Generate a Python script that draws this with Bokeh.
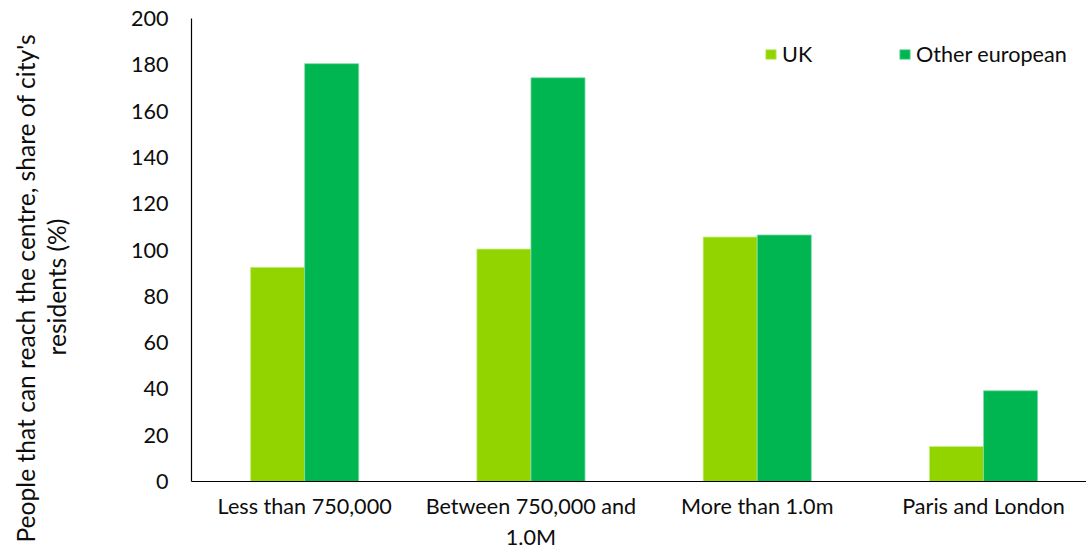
from bokeh.plotting import figure
from bokeh.layouts import row
from bokeh.models import Range1d, FixedTicker, Legend, LegendItem, Title
from bokeh.embed import file_html
from bokeh.resources import INLINE

categories = ["Less than 750,000", "Between 750,000 and\n1.0M", "More than 1.0m", "Paris and London"]
uk = [92.5, 100.4, 105.6, 15.1]
other_european = [180.5, 174.4, 106.5, 39.2]
y_ticks = [0, 20, 40, 60, 80, 100, 120, 140, 160, 180, 200]
y_title_lines = ["People that can reach the centre, share of city's", "residents (%)"]

FONT = "Lato"
FS = "21.6px"
TITLE_FS = "24.6px"
TXT = "#0d0d0d"
UK_COLOR = "#92D400"
OE_COLOR = "#00B650"

TITLE_W = 100
TOTAL_W, TOTAL_H = 1086, 552
TOP, BOTTOM = 18, 70

n = len(categories)
centers = [i + 0.5 for i in range(n)]
bw = 0.239

# ---- narrow panel holding the two-line y-axis title ----
t = figure(width=TITLE_W, height=TOTAL_H, output_backend="svg", toolbar_location=None,
           x_range=Range1d(0, 1), y_range=Range1d(0, 1),
           x_axis_type=None, y_axis_type=None,
           min_border_left=70, min_border_right=0, min_border_top=TOP, min_border_bottom=BOTTOM)
t.outline_line_color = None
t.xgrid.grid_line_color = None
t.ygrid.grid_line_color = None
t.add_layout(Title(text=y_title_lines[1], align="left", offset=126, standoff=0,
                   vertical_align="bottom", text_font=FONT, text_font_size=TITLE_FS,
                   text_font_style="normal", text_color=TXT), "left")
t.add_layout(Title(text=y_title_lines[0], align="left", offset=-61, standoff=0,
                   vertical_align="bottom", text_font=FONT, text_font_size=TITLE_FS,
                   text_font_style="normal", text_color=TXT), "left")

# ---- main chart ----
p = figure(width=TOTAL_W - TITLE_W, height=TOTAL_H, output_backend="svg", toolbar_location=None,
           x_range=Range1d(0, 3.955), y_range=Range1d(0, 200),
           min_border_left=191 - TITLE_W, min_border_right=0, min_border_top=TOP, min_border_bottom=BOTTOM)
p.outline_line_color = None
p.xgrid.grid_line_color = None
p.ygrid.grid_line_color = None

r_uk = p.vbar(x=[c - bw / 2 for c in centers], top=uk, width=bw, fill_color=UK_COLOR,
              line_color="#c8ee80", line_width=0.8)
r_oe = p.vbar(x=[c + bw / 2 for c in centers], top=other_european, width=bw, fill_color=OE_COLOR,
              line_color="#80dca8", line_width=0.8)

xa = p.xaxis[0]
xa.ticker = FixedTicker(ticks=centers)
xa.major_label_overrides = {c: lab for c, lab in zip(centers, categories)}
xa.major_tick_line_color = None
xa.major_tick_out = 0
xa.major_tick_in = 0
xa.minor_tick_line_color = None
xa.axis_line_color = "black"
xa.axis_line_width = 1.2
xa.major_label_text_font = FONT
xa.major_label_text_font_size = FS
xa.major_label_text_color = TXT
xa.major_label_standoff = 11

ya = p.yaxis[0]
ya.ticker = FixedTicker(ticks=y_ticks)
ya.major_tick_line_color = None
ya.major_tick_out = 0
ya.major_tick_in = 0
ya.minor_tick_line_color = None
ya.axis_line_color = "black"
ya.axis_line_width = 1.2
ya.major_label_text_font = FONT
ya.major_label_text_font_size = FS
ya.major_label_text_color = TXT
ya.major_label_standoff = 23

legend = Legend(items=[LegendItem(label="UK", renderers=[r_uk]),
                       LegendItem(label="Other european", renderers=[r_oe])],
                orientation="horizontal", location=(573, 414),
                padding=0, margin=0, spacing=0, label_standoff=5,
                glyph_width=13, glyph_height=12, label_width=116,
                label_text_font=FONT, label_text_font_size=FS, label_text_color=TXT,
                border_line_color=None, background_fill_alpha=0)
p.add_layout(legend)

layout = row(t, p, spacing=0)
open("out.html", "w").write(file_html(layout, INLINE))
